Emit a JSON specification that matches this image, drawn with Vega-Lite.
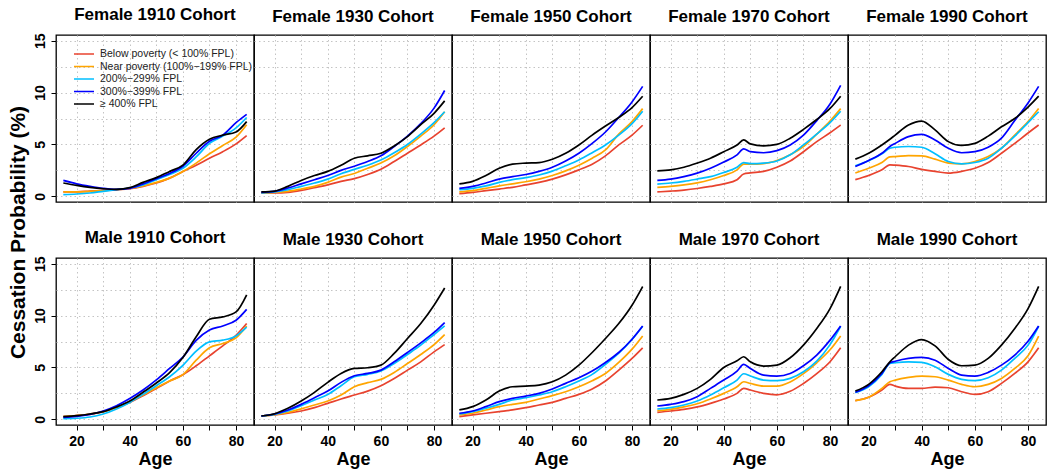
{
"$schema":"https://vega.github.io/schema/vega-lite/v6.json",
"padding":{"left":6,"top":5,"right":5,"bottom":5},
"bounds":"flush",
"columns":5,
"spacing":{"row":56,"column":0},
"resolve":{"scale":{"color":"independent"},"legend":{"color":"independent"}},
"config":{
 "font":"Liberation Sans",
 "view":{"stroke":"#000","strokeWidth":1.3},
 "title":{"fontSize":17,"fontWeight":"bold","color":"#000","offset":9,"baseline":"alphabetic","anchor":"middle","frame":"group","font":"Liberation Sans"},
 "axis":{"gridColor":"#c4c4c4","gridDash":[1.5,3],"gridWidth":1,"domain":false,"labelFont":"Liberation Sans","labelFontSize":14,"labelFontWeight":"bold","labelColor":"#000","tickColor":"#000","tickSize":5,"tickWidth":1,"titleFont":"Liberation Sans","titleFontWeight":"bold","titleColor":"#000","labelOverlap":false,"labelFlush":false}
},
"datasets":{
"F1910":[
{"income":"below","age":15,"prob":0.42},{"income":"below","age":20,"prob":0.42},{"income":"below","age":25,"prob":0.5},{"income":"below","age":30,"prob":0.57},{"income":"below","age":35,"prob":0.64},{"income":"below","age":40,"prob":0.73},{"income":"below","age":45,"prob":0.96},{"income":"below","age":50,"prob":1.28},{"income":"below","age":55,"prob":1.75},{"income":"below","age":60,"prob":2.4},{"income":"below","age":65,"prob":3.0},{"income":"below","age":70,"prob":3.67},{"income":"below","age":75,"prob":4.3},{"income":"below","age":80,"prob":5.05},{"income":"below","age":84,"prob":5.85},
{"income":"near","age":15,"prob":0.42},{"income":"near","age":20,"prob":0.42},{"income":"near","age":25,"prob":0.48},{"income":"near","age":30,"prob":0.55},{"income":"near","age":35,"prob":0.64},{"income":"near","age":40,"prob":0.75},{"income":"near","age":45,"prob":1.0},{"income":"near","age":50,"prob":1.34},{"income":"near","age":55,"prob":1.75},{"income":"near","age":60,"prob":2.4},{"income":"near","age":65,"prob":3.2},{"income":"near","age":70,"prob":4.1},{"income":"near","age":75,"prob":4.9},{"income":"near","age":80,"prob":5.7},{"income":"near","age":84,"prob":6.9},
{"income":"p200","age":15,"prob":0.16},{"income":"p200","age":20,"prob":0.22},{"income":"p200","age":25,"prob":0.32},{"income":"p200","age":30,"prob":0.48},{"income":"p200","age":35,"prob":0.64},{"income":"p200","age":40,"prob":0.8},{"income":"p200","age":45,"prob":1.1},{"income":"p200","age":50,"prob":1.6},{"income":"p200","age":55,"prob":2.1},{"income":"p200","age":60,"prob":2.7},{"income":"p200","age":65,"prob":3.8},{"income":"p200","age":70,"prob":5.1},{"income":"p200","age":75,"prob":5.8},{"income":"p200","age":80,"prob":6.6},{"income":"p200","age":84,"prob":7.6},
{"income":"p300","age":15,"prob":1.53},{"income":"p300","age":20,"prob":1.2},{"income":"p300","age":25,"prob":0.96},{"income":"p300","age":30,"prob":0.77},{"income":"p300","age":35,"prob":0.67},{"income":"p300","age":40,"prob":0.77},{"income":"p300","age":45,"prob":1.2},{"income":"p300","age":50,"prob":1.7},{"income":"p300","age":55,"prob":2.2},{"income":"p300","age":60,"prob":2.9},{"income":"p300","age":65,"prob":4.15},{"income":"p300","age":70,"prob":5.3},{"income":"p300","age":75,"prob":5.9},{"income":"p300","age":80,"prob":7.1},{"income":"p300","age":84,"prob":7.9},
{"income":"p400","age":15,"prob":1.28},{"income":"p400","age":20,"prob":1.05},{"income":"p400","age":25,"prob":0.86},{"income":"p400","age":30,"prob":0.73},{"income":"p400","age":35,"prob":0.67},{"income":"p400","age":40,"prob":0.83},{"income":"p400","age":45,"prob":1.34},{"income":"p400","age":50,"prob":1.8},{"income":"p400","age":55,"prob":2.4},{"income":"p400","age":60,"prob":3.0},{"income":"p400","age":65,"prob":4.5},{"income":"p400","age":70,"prob":5.5},{"income":"p400","age":75,"prob":5.9},{"income":"p400","age":80,"prob":6.2},{"income":"p400","age":84,"prob":7.2}
],
"F1930":[
{"income":"below","age":15,"prob":0.32},{"income":"below","age":20,"prob":0.32},{"income":"below","age":25,"prob":0.38},{"income":"below","age":30,"prob":0.57},{"income":"below","age":35,"prob":0.83},{"income":"below","age":40,"prob":1.1},{"income":"below","age":45,"prob":1.44},{"income":"below","age":50,"prob":1.7},{"income":"below","age":55,"prob":2.1},{"income":"below","age":60,"prob":2.6},{"income":"below","age":65,"prob":3.35},{"income":"below","age":70,"prob":4.15},{"income":"below","age":75,"prob":4.95},{"income":"below","age":80,"prob":5.8},{"income":"below","age":84,"prob":6.6},
{"income":"near","age":15,"prob":0.32},{"income":"near","age":20,"prob":0.38},{"income":"near","age":25,"prob":0.48},{"income":"near","age":30,"prob":0.7},{"income":"near","age":35,"prob":0.96},{"income":"near","age":40,"prob":1.34},{"income":"near","age":45,"prob":1.85},{"income":"near","age":50,"prob":2.2},{"income":"near","age":55,"prob":2.7},{"income":"near","age":60,"prob":3.2},{"income":"near","age":65,"prob":3.9},{"income":"near","age":70,"prob":4.8},{"income":"near","age":75,"prob":5.8},{"income":"near","age":80,"prob":6.9},{"income":"near","age":84,"prob":8.15},
{"income":"p200","age":15,"prob":0.32},{"income":"p200","age":20,"prob":0.42},{"income":"p200","age":25,"prob":0.64},{"income":"p200","age":30,"prob":0.96},{"income":"p200","age":35,"prob":1.28},{"income":"p200","age":40,"prob":1.66},{"income":"p200","age":45,"prob":2.17},{"income":"p200","age":50,"prob":2.6},{"income":"p200","age":55,"prob":3.0},{"income":"p200","age":60,"prob":3.5},{"income":"p200","age":65,"prob":4.2},{"income":"p200","age":70,"prob":5.0},{"income":"p200","age":75,"prob":6.0},{"income":"p200","age":80,"prob":7.1},{"income":"p200","age":84,"prob":8.15},
{"income":"p300","age":15,"prob":0.38},{"income":"p300","age":20,"prob":0.48},{"income":"p300","age":25,"prob":0.8},{"income":"p300","age":30,"prob":1.2},{"income":"p300","age":35,"prob":1.6},{"income":"p300","age":40,"prob":2.0},{"income":"p300","age":45,"prob":2.5},{"income":"p300","age":50,"prob":2.9},{"income":"p300","age":55,"prob":3.35},{"income":"p300","age":60,"prob":3.9},{"income":"p300","age":65,"prob":4.8},{"income":"p300","age":70,"prob":5.8},{"income":"p300","age":75,"prob":7.0},{"income":"p300","age":80,"prob":8.5},{"income":"p300","age":84,"prob":10.2},
{"income":"p400","age":15,"prob":0.42},{"income":"p400","age":20,"prob":0.5},{"income":"p400","age":25,"prob":0.96},{"income":"p400","age":30,"prob":1.53},{"income":"p400","age":35,"prob":2.0},{"income":"p400","age":40,"prob":2.4},{"income":"p400","age":45,"prob":3.0},{"income":"p400","age":50,"prob":3.67},{"income":"p400","age":55,"prob":3.9},{"income":"p400","age":60,"prob":4.15},{"income":"p400","age":65,"prob":4.85},{"income":"p400","age":70,"prob":5.75},{"income":"p400","age":75,"prob":6.9},{"income":"p400","age":80,"prob":8.0},{"income":"p400","age":84,"prob":9.2}
],
"F1950":[
{"income":"below","age":15,"prob":0.26},{"income":"below","age":20,"prob":0.38},{"income":"below","age":25,"prob":0.54},{"income":"below","age":30,"prob":0.7},{"income":"below","age":35,"prob":0.86},{"income":"below","age":40,"prob":1.1},{"income":"below","age":45,"prob":1.34},{"income":"below","age":50,"prob":1.66},{"income":"below","age":55,"prob":2.07},{"income":"below","age":60,"prob":2.55},{"income":"below","age":65,"prob":3.1},{"income":"below","age":70,"prob":3.9},{"income":"below","age":75,"prob":4.95},{"income":"below","age":80,"prob":5.9},{"income":"below","age":84,"prob":6.85},
{"income":"near","age":15,"prob":0.42},{"income":"near","age":20,"prob":0.54},{"income":"near","age":25,"prob":0.77},{"income":"near","age":30,"prob":1.0},{"income":"near","age":35,"prob":1.2},{"income":"near","age":40,"prob":1.4},{"income":"near","age":45,"prob":1.66},{"income":"near","age":50,"prob":2.0},{"income":"near","age":55,"prob":2.45},{"income":"near","age":60,"prob":3.0},{"income":"near","age":65,"prob":3.67},{"income":"near","age":70,"prob":4.47},{"income":"near","age":75,"prob":6.0},{"income":"near","age":80,"prob":7.2},{"income":"near","age":84,"prob":8.45},
{"income":"p200","age":15,"prob":0.64},{"income":"p200","age":20,"prob":0.77},{"income":"p200","age":25,"prob":1.0},{"income":"p200","age":30,"prob":1.34},{"income":"p200","age":35,"prob":1.6},{"income":"p200","age":40,"prob":1.8},{"income":"p200","age":45,"prob":2.05},{"income":"p200","age":50,"prob":2.43},{"income":"p200","age":55,"prob":2.94},{"income":"p200","age":60,"prob":3.5},{"income":"p200","age":65,"prob":4.2},{"income":"p200","age":70,"prob":4.95},{"income":"p200","age":75,"prob":5.9},{"income":"p200","age":80,"prob":7.0},{"income":"p200","age":84,"prob":8.2},
{"income":"p300","age":15,"prob":0.77},{"income":"p300","age":20,"prob":0.96},{"income":"p300","age":25,"prob":1.28},{"income":"p300","age":30,"prob":1.66},{"income":"p300","age":35,"prob":1.9},{"income":"p300","age":40,"prob":2.1},{"income":"p300","age":45,"prob":2.4},{"income":"p300","age":50,"prob":2.8},{"income":"p300","age":55,"prob":3.4},{"income":"p300","age":60,"prob":4.15},{"income":"p300","age":65,"prob":5.1},{"income":"p300","age":70,"prob":6.2},{"income":"p300","age":75,"prob":7.6},{"income":"p300","age":80,"prob":9.1},{"income":"p300","age":84,"prob":10.6},
{"income":"p400","age":15,"prob":1.2},{"income":"p400","age":20,"prob":1.44},{"income":"p400","age":25,"prob":2.0},{"income":"p400","age":30,"prob":2.7},{"income":"p400","age":35,"prob":3.1},{"income":"p400","age":40,"prob":3.2},{"income":"p400","age":45,"prob":3.25},{"income":"p400","age":50,"prob":3.57},{"income":"p400","age":55,"prob":4.15},{"income":"p400","age":60,"prob":4.95},{"income":"p400","age":65,"prob":5.9},{"income":"p400","age":70,"prob":6.77},{"income":"p400","age":75,"prob":7.6},{"income":"p400","age":80,"prob":8.55},{"income":"p400","age":84,"prob":9.64}
],
"F1970":[
{"income":"below","age":15,"prob":0.42},{"income":"below","age":20,"prob":0.5},{"income":"below","age":25,"prob":0.6},{"income":"below","age":30,"prob":0.75},{"income":"below","age":35,"prob":0.95},{"income":"below","age":40,"prob":1.2},{"income":"below","age":45,"prob":1.6},{"income":"below","age":47.5,"prob":2.15},{"income":"below","age":50,"prob":2.25},{"income":"below","age":55,"prob":2.4},{"income":"below","age":60,"prob":2.8},{"income":"below","age":65,"prob":3.4},{"income":"below","age":70,"prob":4.3},{"income":"below","age":75,"prob":5.27},{"income":"below","age":80,"prob":6.13},{"income":"below","age":84,"prob":6.87},
{"income":"near","age":15,"prob":0.86},{"income":"near","age":20,"prob":0.96},{"income":"near","age":25,"prob":1.1},{"income":"near","age":30,"prob":1.3},{"income":"near","age":35,"prob":1.6},{"income":"near","age":40,"prob":2.0},{"income":"near","age":45,"prob":2.55},{"income":"near","age":47.5,"prob":3.1},{"income":"near","age":50,"prob":3.1},{"income":"near","age":55,"prob":3.15},{"income":"near","age":60,"prob":3.45},{"income":"near","age":65,"prob":4.0},{"income":"near","age":70,"prob":4.8},{"income":"near","age":75,"prob":6.0},{"income":"near","age":80,"prob":7.25},{"income":"near","age":84,"prob":8.45},
{"income":"p200","age":15,"prob":1.18},{"income":"p200","age":20,"prob":1.28},{"income":"p200","age":25,"prob":1.44},{"income":"p200","age":30,"prob":1.66},{"income":"p200","age":35,"prob":1.9},{"income":"p200","age":40,"prob":2.3},{"income":"p200","age":45,"prob":2.8},{"income":"p200","age":47.5,"prob":3.25},{"income":"p200","age":50,"prob":3.15},{"income":"p200","age":55,"prob":3.2},{"income":"p200","age":60,"prob":3.4},{"income":"p200","age":65,"prob":4.0},{"income":"p200","age":70,"prob":4.95},{"income":"p200","age":75,"prob":6.0},{"income":"p200","age":80,"prob":7.1},{"income":"p200","age":84,"prob":8.2},
{"income":"p300","age":15,"prob":1.53},{"income":"p300","age":20,"prob":1.66},{"income":"p300","age":25,"prob":1.9},{"income":"p300","age":30,"prob":2.23},{"income":"p300","age":35,"prob":2.7},{"income":"p300","age":40,"prob":3.3},{"income":"p300","age":45,"prob":4.0},{"income":"p300","age":47.5,"prob":4.57},{"income":"p300","age":50,"prob":4.3},{"income":"p300","age":55,"prob":4.2},{"income":"p300","age":60,"prob":4.4},{"income":"p300","age":65,"prob":4.95},{"income":"p300","age":70,"prob":5.9},{"income":"p300","age":75,"prob":7.3},{"income":"p300","age":80,"prob":8.9},{"income":"p300","age":84,"prob":10.7},
{"income":"p400","age":15,"prob":2.46},{"income":"p400","age":20,"prob":2.55},{"income":"p400","age":25,"prob":2.8},{"income":"p400","age":30,"prob":3.2},{"income":"p400","age":35,"prob":3.67},{"income":"p400","age":40,"prob":4.3},{"income":"p400","age":45,"prob":4.95},{"income":"p400","age":47.5,"prob":5.43},{"income":"p400","age":50,"prob":5.05},{"income":"p400","age":55,"prob":4.86},{"income":"p400","age":60,"prob":5.0},{"income":"p400","age":65,"prob":5.6},{"income":"p400","age":70,"prob":6.45},{"income":"p400","age":75,"prob":7.4},{"income":"p400","age":80,"prob":8.47},{"income":"p400","age":84,"prob":9.65}
],
"F1990":[
{"income":"below","age":15,"prob":1.6},{"income":"below","age":20,"prob":2.0},{"income":"below","age":25,"prob":2.55},{"income":"below","age":28,"prob":3.03},{"income":"below","age":30,"prob":3.0},{"income":"below","age":35,"prob":2.87},{"income":"below","age":40,"prob":2.6},{"income":"below","age":45,"prob":2.4},{"income":"below","age":50,"prob":2.24},{"income":"below","age":55,"prob":2.4},{"income":"below","age":60,"prob":2.7},{"income":"below","age":65,"prob":3.25},{"income":"below","age":70,"prob":4.15},{"income":"below","age":75,"prob":5.1},{"income":"below","age":80,"prob":6.1},{"income":"below","age":84,"prob":6.87},
{"income":"near","age":15,"prob":2.24},{"income":"near","age":20,"prob":2.7},{"income":"near","age":25,"prob":3.25},{"income":"near","age":28,"prob":3.8},{"income":"near","age":30,"prob":3.83},{"income":"near","age":35,"prob":3.93},{"income":"near","age":40,"prob":3.9},{"income":"near","age":45,"prob":3.58},{"income":"near","age":50,"prob":3.2},{"income":"near","age":55,"prob":3.13},{"income":"near","age":60,"prob":3.35},{"income":"near","age":65,"prob":3.83},{"income":"near","age":70,"prob":4.63},{"income":"near","age":75,"prob":5.9},{"income":"near","age":80,"prob":7.2},{"income":"near","age":84,"prob":8.47},
{"income":"p200","age":15,"prob":2.94},{"income":"p200","age":20,"prob":3.42},{"income":"p200","age":25,"prob":4.1},{"income":"p200","age":28,"prob":4.63},{"income":"p200","age":30,"prob":4.73},{"income":"p200","age":35,"prob":4.8},{"income":"p200","age":40,"prob":4.73},{"income":"p200","age":45,"prob":4.1},{"income":"p200","age":50,"prob":3.35},{"income":"p200","age":55,"prob":3.13},{"income":"p200","age":60,"prob":3.26},{"income":"p200","age":65,"prob":3.67},{"income":"p200","age":70,"prob":4.63},{"income":"p200","age":75,"prob":5.8},{"income":"p200","age":80,"prob":7.1},{"income":"p200","age":84,"prob":8.15},
{"income":"p300","age":15,"prob":2.87},{"income":"p300","age":20,"prob":3.45},{"income":"p300","age":25,"prob":4.15},{"income":"p300","age":28,"prob":4.8},{"income":"p300","age":30,"prob":5.1},{"income":"p300","age":35,"prob":5.75},{"income":"p300","age":40,"prob":5.97},{"income":"p300","age":45,"prob":5.43},{"income":"p300","age":50,"prob":4.63},{"income":"p300","age":55,"prob":4.2},{"income":"p300","age":60,"prob":4.3},{"income":"p300","age":65,"prob":4.73},{"income":"p300","age":70,"prob":5.6},{"income":"p300","age":75,"prob":7.3},{"income":"p300","age":80,"prob":9.0},{"income":"p300","age":84,"prob":10.6},
{"income":"p400","age":15,"prob":3.58},{"income":"p400","age":20,"prob":4.15},{"income":"p400","age":25,"prob":4.95},{"income":"p400","age":28,"prob":5.5},{"income":"p400","age":30,"prob":5.9},{"income":"p400","age":35,"prob":6.87},{"income":"p400","age":40,"prob":7.25},{"income":"p400","age":45,"prob":6.4},{"income":"p400","age":50,"prob":5.27},{"income":"p400","age":55,"prob":4.9},{"income":"p400","age":60,"prob":5.1},{"income":"p400","age":65,"prob":5.8},{"income":"p400","age":70,"prob":6.7},{"income":"p400","age":75,"prob":7.5},{"income":"p400","age":80,"prob":8.6},{"income":"p400","age":84,"prob":9.65}
],
"M1910":[
{"income":"below","age":15,"prob":0.26},{"income":"below","age":20,"prob":0.35},{"income":"below","age":25,"prob":0.48},{"income":"below","age":30,"prob":0.74},{"income":"below","age":35,"prob":1.15},{"income":"below","age":40,"prob":1.63},{"income":"below","age":45,"prob":2.28},{"income":"below","age":50,"prob":2.98},{"income":"below","age":55,"prob":3.69},{"income":"below","age":60,"prob":4.3},{"income":"below","age":65,"prob":5.16},{"income":"below","age":70,"prob":6.12},{"income":"below","age":75,"prob":7.08},{"income":"below","age":80,"prob":8.1},{"income":"below","age":84,"prob":9.23},
{"income":"near","age":15,"prob":0.26},{"income":"near","age":20,"prob":0.35},{"income":"near","age":25,"prob":0.51},{"income":"near","age":30,"prob":0.74},{"income":"near","age":35,"prob":1.12},{"income":"near","age":40,"prob":1.7},{"income":"near","age":45,"prob":2.34},{"income":"near","age":50,"prob":3.04},{"income":"near","age":55,"prob":3.69},{"income":"near","age":60,"prob":4.3},{"income":"near","age":65,"prob":5.7},{"income":"near","age":70,"prob":6.89},{"income":"near","age":75,"prob":7.3},{"income":"near","age":80,"prob":7.85},{"income":"near","age":84,"prob":9.0},
{"income":"p200","age":15,"prob":0.06},{"income":"p200","age":20,"prob":0.1},{"income":"p200","age":25,"prob":0.22},{"income":"p200","age":30,"prob":0.51},{"income":"p200","age":35,"prob":1.0},{"income":"p200","age":40,"prob":1.63},{"income":"p200","age":45,"prob":2.4},{"income":"p200","age":50,"prob":3.24},{"income":"p200","age":55,"prob":4.1},{"income":"p200","age":60,"prob":5.2},{"income":"p200","age":65,"prob":6.57},{"income":"p200","age":70,"prob":7.47},{"income":"p200","age":75,"prob":7.63},{"income":"p200","age":80,"prob":8.04},{"income":"p200","age":84,"prob":8.88},
{"income":"p300","age":15,"prob":0.19},{"income":"p300","age":20,"prob":0.29},{"income":"p300","age":25,"prob":0.48},{"income":"p300","age":30,"prob":0.8},{"income":"p300","age":35,"prob":1.31},{"income":"p300","age":40,"prob":2.0},{"income":"p300","age":45,"prob":2.82},{"income":"p300","age":50,"prob":3.8},{"income":"p300","age":55,"prob":4.9},{"income":"p300","age":60,"prob":6.0},{"income":"p300","age":65,"prob":7.6},{"income":"p300","age":70,"prob":8.6},{"income":"p300","age":75,"prob":9.0},{"income":"p300","age":80,"prob":9.55},{"income":"p300","age":84,"prob":10.6},
{"income":"p400","age":15,"prob":0.26},{"income":"p400","age":20,"prob":0.35},{"income":"p400","age":25,"prob":0.51},{"income":"p400","age":30,"prob":0.74},{"income":"p400","age":35,"prob":1.19},{"income":"p400","age":40,"prob":1.76},{"income":"p400","age":45,"prob":2.6},{"income":"p400","age":50,"prob":3.5},{"income":"p400","age":55,"prob":4.5},{"income":"p400","age":60,"prob":5.95},{"income":"p400","age":65,"prob":7.95},{"income":"p400","age":70,"prob":9.65},{"income":"p400","age":75,"prob":9.87},{"income":"p400","age":80,"prob":10.35},{"income":"p400","age":84,"prob":12.0}
],
"M1930":[
{"income":"below","age":15,"prob":0.32},{"income":"below","age":20,"prob":0.42},{"income":"below","age":25,"prob":0.58},{"income":"below","age":30,"prob":0.8},{"income":"below","age":35,"prob":1.12},{"income":"below","age":40,"prob":1.54},{"income":"below","age":45,"prob":1.96},{"income":"below","age":50,"prob":2.34},{"income":"below","age":55,"prob":2.72},{"income":"below","age":60,"prob":3.24},{"income":"below","age":65,"prob":3.94},{"income":"below","age":70,"prob":4.74},{"income":"below","age":75,"prob":5.54},{"income":"below","age":80,"prob":6.5},{"income":"below","age":84,"prob":7.2},
{"income":"near","age":15,"prob":0.32},{"income":"near","age":20,"prob":0.45},{"income":"near","age":25,"prob":0.67},{"income":"near","age":30,"prob":1.0},{"income":"near","age":35,"prob":1.38},{"income":"near","age":40,"prob":1.76},{"income":"near","age":45,"prob":2.34},{"income":"near","age":50,"prob":3.14},{"income":"near","age":55,"prob":3.53},{"income":"near","age":60,"prob":3.85},{"income":"near","age":65,"prob":4.52},{"income":"near","age":70,"prob":5.38},{"income":"near","age":75,"prob":6.25},{"income":"near","age":80,"prob":7.2},{"income":"near","age":84,"prob":8.17},
{"income":"p200","age":15,"prob":0.32},{"income":"p200","age":20,"prob":0.48},{"income":"p200","age":25,"prob":0.8},{"income":"p200","age":30,"prob":1.31},{"income":"p200","age":35,"prob":1.86},{"income":"p200","age":40,"prob":2.4},{"income":"p200","age":45,"prob":3.24},{"income":"p200","age":50,"prob":4.1},{"income":"p200","age":55,"prob":4.33},{"income":"p200","age":60,"prob":4.65},{"income":"p200","age":65,"prob":5.38},{"income":"p200","age":70,"prob":6.25},{"income":"p200","age":75,"prob":7.15},{"income":"p200","age":80,"prob":8.17},{"income":"p200","age":84,"prob":9.0},
{"income":"p300","age":15,"prob":0.32},{"income":"p300","age":20,"prob":0.51},{"income":"p300","age":25,"prob":0.9},{"income":"p300","age":30,"prob":1.44},{"income":"p300","age":35,"prob":2.08},{"income":"p300","age":40,"prob":2.72},{"income":"p300","age":45,"prob":3.56},{"income":"p300","age":50,"prob":4.2},{"income":"p300","age":55,"prob":4.42},{"income":"p300","age":60,"prob":4.74},{"income":"p300","age":65,"prob":5.54},{"income":"p300","age":70,"prob":6.44},{"income":"p300","age":75,"prob":7.37},{"income":"p300","age":80,"prob":8.37},{"income":"p300","age":84,"prob":9.33},
{"income":"p400","age":15,"prob":0.32},{"income":"p400","age":20,"prob":0.54},{"income":"p400","age":25,"prob":1.06},{"income":"p400","age":30,"prob":1.76},{"income":"p400","age":35,"prob":2.6},{"income":"p400","age":40,"prob":3.56},{"income":"p400","age":45,"prob":4.42},{"income":"p400","age":50,"prob":4.9},{"income":"p400","age":55,"prob":4.97},{"income":"p400","age":60,"prob":5.22},{"income":"p400","age":65,"prob":6.35},{"income":"p400","age":70,"prob":7.79},{"income":"p400","age":75,"prob":9.23},{"income":"p400","age":80,"prob":11.0},{"income":"p400","age":84,"prob":12.66}
],
"M1950":[
{"income":"below","age":15,"prob":0.26},{"income":"below","age":20,"prob":0.42},{"income":"below","age":25,"prob":0.58},{"income":"below","age":30,"prob":0.74},{"income":"below","age":35,"prob":0.9},{"income":"below","age":40,"prob":1.12},{"income":"below","age":45,"prob":1.38},{"income":"below","age":50,"prob":1.63},{"income":"below","age":55,"prob":2.02},{"income":"below","age":60,"prob":2.4},{"income":"below","age":65,"prob":2.92},{"income":"below","age":70,"prob":3.69},{"income":"below","age":75,"prob":4.74},{"income":"below","age":80,"prob":5.87},{"income":"below","age":84,"prob":6.89},
{"income":"near","age":15,"prob":0.42},{"income":"near","age":20,"prob":0.58},{"income":"near","age":25,"prob":0.9},{"income":"near","age":30,"prob":1.22},{"income":"near","age":35,"prob":1.44},{"income":"near","age":40,"prob":1.63},{"income":"near","age":45,"prob":1.96},{"income":"near","age":50,"prob":2.28},{"income":"near","age":55,"prob":2.66},{"income":"near","age":60,"prob":3.14},{"income":"near","age":65,"prob":3.72},{"income":"near","age":70,"prob":4.42},{"income":"near","age":75,"prob":5.48},{"income":"near","age":80,"prob":6.76},{"income":"near","age":84,"prob":8.04},
{"income":"p200","age":15,"prob":0.51},{"income":"p200","age":20,"prob":0.74},{"income":"p200","age":25,"prob":1.06},{"income":"p200","age":30,"prob":1.44},{"income":"p200","age":35,"prob":1.86},{"income":"p200","age":40,"prob":2.08},{"income":"p200","age":45,"prob":2.34},{"income":"p200","age":50,"prob":2.66},{"income":"p200","age":55,"prob":3.14},{"income":"p200","age":60,"prob":3.69},{"income":"p200","age":65,"prob":4.33},{"income":"p200","age":70,"prob":5.3},{"income":"p200","age":75,"prob":6.38},{"income":"p200","age":80,"prob":7.7},{"income":"p200","age":84,"prob":8.97},
{"income":"p300","age":15,"prob":0.58},{"income":"p300","age":20,"prob":0.8},{"income":"p300","age":25,"prob":1.22},{"income":"p300","age":30,"prob":1.7},{"income":"p300","age":35,"prob":2.02},{"income":"p300","age":40,"prob":2.24},{"income":"p300","age":45,"prob":2.5},{"income":"p300","age":50,"prob":2.92},{"income":"p300","age":55,"prob":3.46},{"income":"p300","age":60,"prob":4.0},{"income":"p300","age":65,"prob":4.65},{"income":"p300","age":70,"prob":5.48},{"income":"p300","age":75,"prob":6.44},{"income":"p300","age":80,"prob":7.72},{"income":"p300","age":84,"prob":9.0},
{"income":"p400","age":15,"prob":0.9},{"income":"p400","age":20,"prob":1.22},{"income":"p400","age":25,"prob":1.86},{"income":"p400","age":30,"prob":2.72},{"income":"p400","age":35,"prob":3.14},{"income":"p400","age":40,"prob":3.2},{"income":"p400","age":45,"prob":3.3},{"income":"p400","age":50,"prob":3.62},{"income":"p400","age":55,"prob":4.26},{"income":"p400","age":60,"prob":5.22},{"income":"p400","age":65,"prob":6.44},{"income":"p400","age":70,"prob":7.79},{"income":"p400","age":75,"prob":9.23},{"income":"p400","age":80,"prob":11.0},{"income":"p400","age":84,"prob":12.8}
],
"M1970":[
{"income":"below","age":15,"prob":0.67},{"income":"below","age":20,"prob":0.8},{"income":"below","age":25,"prob":0.96},{"income":"below","age":30,"prob":1.19},{"income":"below","age":35,"prob":1.54},{"income":"below","age":40,"prob":1.96},{"income":"below","age":45,"prob":2.5},{"income":"below","age":47.5,"prob":2.98},{"income":"below","age":50,"prob":2.82},{"income":"below","age":55,"prob":2.5},{"income":"below","age":60,"prob":2.36},{"income":"below","age":65,"prob":2.7},{"income":"below","age":70,"prob":3.45},{"income":"below","age":75,"prob":4.4},{"income":"below","age":80,"prob":5.55},{"income":"below","age":84,"prob":6.89},
{"income":"near","age":15,"prob":0.83},{"income":"near","age":20,"prob":0.96},{"income":"near","age":25,"prob":1.19},{"income":"near","age":30,"prob":1.5},{"income":"near","age":35,"prob":1.96},{"income":"near","age":40,"prob":2.5},{"income":"near","age":45,"prob":3.14},{"income":"near","age":47.5,"prob":3.62},{"income":"near","age":50,"prob":3.46},{"income":"near","age":55,"prob":3.2},{"income":"near","age":60,"prob":3.2},{"income":"near","age":65,"prob":3.6},{"income":"near","age":70,"prob":4.4},{"income":"near","age":75,"prob":5.45},{"income":"near","age":80,"prob":6.7},{"income":"near","age":84,"prob":8.04},
{"income":"p200","age":15,"prob":0.99},{"income":"p200","age":20,"prob":1.12},{"income":"p200","age":25,"prob":1.38},{"income":"p200","age":30,"prob":1.76},{"income":"p200","age":35,"prob":2.34},{"income":"p200","age":40,"prob":3.04},{"income":"p200","age":45,"prob":3.78},{"income":"p200","age":47.5,"prob":4.39},{"income":"p200","age":50,"prob":4.17},{"income":"p200","age":55,"prob":3.78},{"income":"p200","age":60,"prob":3.72},{"income":"p200","age":65,"prob":3.94},{"income":"p200","age":70,"prob":4.58},{"income":"p200","age":75,"prob":5.6},{"income":"p200","age":80,"prob":7.2},{"income":"p200","age":84,"prob":8.97},
{"income":"p300","age":15,"prob":1.28},{"income":"p300","age":20,"prob":1.44},{"income":"p300","age":25,"prob":1.7},{"income":"p300","age":30,"prob":2.18},{"income":"p300","age":35,"prob":2.98},{"income":"p300","age":40,"prob":3.78},{"income":"p300","age":45,"prob":4.65},{"income":"p300","age":47.5,"prob":5.29},{"income":"p300","age":50,"prob":4.9},{"income":"p300","age":55,"prob":4.26},{"income":"p300","age":60,"prob":4.17},{"income":"p300","age":65,"prob":4.42},{"income":"p300","age":70,"prob":5.16},{"income":"p300","age":75,"prob":6.19},{"income":"p300","age":80,"prob":7.63},{"income":"p300","age":84,"prob":9.0},
{"income":"p400","age":15,"prob":1.86},{"income":"p400","age":20,"prob":2.02},{"income":"p400","age":25,"prob":2.4},{"income":"p400","age":30,"prob":2.98},{"income":"p400","age":35,"prob":3.85},{"income":"p400","age":40,"prob":5.0},{"income":"p400","age":45,"prob":5.64},{"income":"p400","age":47.5,"prob":6.03},{"income":"p400","age":50,"prob":5.54},{"income":"p400","age":55,"prob":5.13},{"income":"p400","age":60,"prob":5.22},{"income":"p400","age":65,"prob":5.93},{"income":"p400","age":70,"prob":7.15},{"income":"p400","age":75,"prob":8.75},{"income":"p400","age":80,"prob":10.67},{"income":"p400","age":84,"prob":12.82}
],
"M1990":[
{"income":"below","age":15,"prob":1.8},{"income":"below","age":20,"prob":2.12},{"income":"below","age":25,"prob":2.82},{"income":"below","age":28,"prob":3.37},{"income":"below","age":30,"prob":3.2},{"income":"below","age":35,"prob":2.98},{"income":"below","age":40,"prob":2.98},{"income":"below","age":45,"prob":3.1},{"income":"below","age":50,"prob":3.04},{"income":"below","age":55,"prob":2.66},{"income":"below","age":60,"prob":2.4},{"income":"below","age":65,"prob":2.66},{"income":"below","age":70,"prob":3.46},{"income":"below","age":75,"prob":4.42},{"income":"below","age":80,"prob":5.54},{"income":"below","age":84,"prob":6.89},
{"income":"near","age":15,"prob":1.8},{"income":"near","age":20,"prob":2.12},{"income":"near","age":25,"prob":2.98},{"income":"near","age":28,"prob":3.62},{"income":"near","age":30,"prob":3.78},{"income":"near","age":35,"prob":4.04},{"income":"near","age":40,"prob":4.17},{"income":"near","age":45,"prob":4.1},{"income":"near","age":50,"prob":3.78},{"income":"near","age":55,"prob":3.37},{"income":"near","age":60,"prob":3.14},{"income":"near","age":65,"prob":3.37},{"income":"near","age":70,"prob":3.94},{"income":"near","age":75,"prob":4.9},{"income":"near","age":80,"prob":6.12},{"income":"near","age":84,"prob":8.01},
{"income":"p200","age":15,"prob":2.56},{"income":"p200","age":20,"prob":3.14},{"income":"p200","age":25,"prob":4.33},{"income":"p200","age":28,"prob":5.38},{"income":"p200","age":30,"prob":5.45},{"income":"p200","age":35,"prob":5.54},{"income":"p200","age":40,"prob":5.48},{"income":"p200","age":45,"prob":5.06},{"income":"p200","age":50,"prob":4.33},{"income":"p200","age":55,"prob":3.85},{"income":"p200","age":60,"prob":3.72},{"income":"p200","age":65,"prob":4.0},{"income":"p200","age":70,"prob":4.74},{"income":"p200","age":75,"prob":5.87},{"income":"p200","age":80,"prob":7.15},{"income":"p200","age":84,"prob":8.97},
{"income":"p300","age":15,"prob":2.6},{"income":"p300","age":20,"prob":3.24},{"income":"p300","age":25,"prob":4.42},{"income":"p300","age":28,"prob":5.45},{"income":"p300","age":30,"prob":5.6},{"income":"p300","age":35,"prob":5.87},{"income":"p300","age":40,"prob":5.96},{"income":"p300","age":45,"prob":5.7},{"income":"p300","age":50,"prob":4.9},{"income":"p300","age":55,"prob":4.26},{"income":"p300","age":60,"prob":4.17},{"income":"p300","age":65,"prob":4.52},{"income":"p300","age":70,"prob":5.22},{"income":"p300","age":75,"prob":6.19},{"income":"p300","age":80,"prob":7.53},{"income":"p300","age":84,"prob":9.0},
{"income":"p400","age":15,"prob":2.72},{"income":"p400","age":20,"prob":3.37},{"income":"p400","age":25,"prob":4.58},{"income":"p400","age":28,"prob":5.54},{"income":"p400","age":30,"prob":6.03},{"income":"p400","age":35,"prob":7.15},{"income":"p400","age":40,"prob":7.69},{"income":"p400","age":45,"prob":7.08},{"income":"p400","age":50,"prob":5.77},{"income":"p400","age":55,"prob":5.16},{"income":"p400","age":60,"prob":5.22},{"income":"p400","age":65,"prob":5.87},{"income":"p400","age":70,"prob":7.15},{"income":"p400","age":75,"prob":8.75},{"income":"p400","age":80,"prob":10.67},{"income":"p400","age":84,"prob":12.82}
]
},
"concat":[
{"width":198,"height":167,"title":"Female 1910 Cohort","data":{"name":"F1910"},
 "mark":{"type":"line","interpolate":"monotone","strokeWidth":1.7},
 "encoding":{
  "x":{"field":"age","type":"quantitative","scale":{"domain":[12.24,86.76],"nice":false,"zero":false},"axis":{"values":[20,30,40,50,60,70,80],"labels":false,"ticks":false,"title":null}},
  "y":{"field":"prob","type":"quantitative","scale":{"domain":[-0.55,15.55],"nice":false,"zero":false},"axis":{"values":[0,2.5,5,7.5,10,12.5,15],"labelExpr":"datum.value % 5 === 0 ? datum.label : ''","tickOpacity":{"condition":{"test":"datum.value % 5 === 0","value":1},"value":0},"labelAngle":270,"labelAlign":"center","labelBaseline":"bottom","labelPadding":4,"title":"Cessation Probability (%)","titleFontSize":21,"titleX":-32,"titleY":197,"titleAngle":270,"titleAlign":"center","titleBaseline":"alphabetic"}},
  "color":{"field":"income","type":"nominal","scale":{"domain":["below","near","p200","p300","p400"],"range":["#E8432F","#FFA500","#00BFFF","#0000FF","#000000"]},
   "legend":{"orient":"none","legendX":17,"legendY":13,"title":null,"symbolType":"stroke","symbolSize":400,"symbolStrokeWidth":1.5,"clipHeight":12,"labelFontSize":10.5,"labelFontWeight":"normal","labelFont":"Liberation Sans","labelColor":"#222","labelOffset":5,"labelLimit":300,"rowPadding":0.5,"padding":0,
   "labelExpr":"datum.label === 'below' ? 'Below poverty (< 100% FPL)' : datum.label === 'near' ? 'Near poverty (100%\u2212199% FPL)' : datum.label === 'p200' ? '200%\u2212299% FPL' : datum.label === 'p300' ? '300%\u2212399% FPL' : '\u2265 400% FPL'"}}
 }},
{"width":198,"height":167,"title":"Female 1930 Cohort","data":{"name":"F1930"},
 "mark":{"type":"line","interpolate":"monotone","strokeWidth":1.7},
 "encoding":{
  "x":{"field":"age","type":"quantitative","scale":{"domain":[12.24,86.76],"nice":false,"zero":false},"axis":{"values":[20,30,40,50,60,70,80],"labels":false,"ticks":false,"title":null}},
  "y":{"field":"prob","type":"quantitative","scale":{"domain":[-0.55,15.55],"nice":false,"zero":false},"axis":{"values":[0,2.5,5,7.5,10,12.5,15],"labels":false,"ticks":false,"title":null}},
  "color":{"field":"income","type":"nominal","scale":{"domain":["below","near","p200","p300","p400"],"range":["#E8432F","#FFA500","#00BFFF","#0000FF","#000000"]},"legend":null}
 }},
{"width":198,"height":167,"title":"Female 1950 Cohort","data":{"name":"F1950"},
 "mark":{"type":"line","interpolate":"monotone","strokeWidth":1.7},
 "encoding":{
  "x":{"field":"age","type":"quantitative","scale":{"domain":[12.24,86.76],"nice":false,"zero":false},"axis":{"values":[20,30,40,50,60,70,80],"labels":false,"ticks":false,"title":null}},
  "y":{"field":"prob","type":"quantitative","scale":{"domain":[-0.55,15.55],"nice":false,"zero":false},"axis":{"values":[0,2.5,5,7.5,10,12.5,15],"labels":false,"ticks":false,"title":null}},
  "color":{"field":"income","type":"nominal","scale":{"domain":["below","near","p200","p300","p400"],"range":["#E8432F","#FFA500","#00BFFF","#0000FF","#000000"]},"legend":null}
 }},
{"width":198,"height":167,"title":"Female 1970 Cohort","data":{"name":"F1970"},
 "mark":{"type":"line","interpolate":"monotone","strokeWidth":1.7},
 "encoding":{
  "x":{"field":"age","type":"quantitative","scale":{"domain":[12.24,86.76],"nice":false,"zero":false},"axis":{"values":[20,30,40,50,60,70,80],"labels":false,"ticks":false,"title":null}},
  "y":{"field":"prob","type":"quantitative","scale":{"domain":[-0.55,15.55],"nice":false,"zero":false},"axis":{"values":[0,2.5,5,7.5,10,12.5,15],"labels":false,"ticks":false,"title":null}},
  "color":{"field":"income","type":"nominal","scale":{"domain":["below","near","p200","p300","p400"],"range":["#E8432F","#FFA500","#00BFFF","#0000FF","#000000"]},"legend":null}
 }},
{"width":198,"height":167,"title":"Female 1990 Cohort","data":{"name":"F1990"},
 "mark":{"type":"line","interpolate":"monotone","strokeWidth":1.7},
 "encoding":{
  "x":{"field":"age","type":"quantitative","scale":{"domain":[12.24,86.76],"nice":false,"zero":false},"axis":{"values":[20,30,40,50,60,70,80],"labels":false,"ticks":false,"title":null}},
  "y":{"field":"prob","type":"quantitative","scale":{"domain":[-0.55,15.55],"nice":false,"zero":false},"axis":{"values":[0,2.5,5,7.5,10,12.5,15],"labels":false,"ticks":false,"title":null}},
  "color":{"field":"income","type":"nominal","scale":{"domain":["below","near","p200","p300","p400"],"range":["#E8432F","#FFA500","#00BFFF","#0000FF","#000000"]},"legend":null}
 }},
{"width":198,"height":167,"title":"Male 1910 Cohort","data":{"name":"M1910"},
 "mark":{"type":"line","interpolate":"monotone","strokeWidth":1.7},
 "encoding":{
  "x":{"field":"age","type":"quantitative","scale":{"domain":[12.24,86.76],"nice":false,"zero":false},"axis":{"values":[20,30,40,50,60,70,80],"labelExpr":"datum.value % 20 === 0 ? datum.label : ''","labelPadding":4,"labelAngle":0,"title":"Age","titleFontSize":18,"titlePadding":2}},
  "y":{"field":"prob","type":"quantitative","scale":{"domain":[-0.55,15.55],"nice":false,"zero":false},"axis":{"values":[0,2.5,5,7.5,10,12.5,15],"labelExpr":"datum.value % 5 === 0 ? datum.label : ''","tickOpacity":{"condition":{"test":"datum.value % 5 === 0","value":1},"value":0},"labelAngle":270,"labelAlign":"center","labelBaseline":"bottom","labelPadding":4,"title":null}},
  "color":{"field":"income","type":"nominal","scale":{"domain":["below","near","p200","p300","p400"],"range":["#E8432F","#FFA500","#00BFFF","#0000FF","#000000"]},"legend":null}
 }},
{"width":198,"height":167,"title":"Male 1930 Cohort","data":{"name":"M1930"},
 "mark":{"type":"line","interpolate":"monotone","strokeWidth":1.7},
 "encoding":{
  "x":{"field":"age","type":"quantitative","scale":{"domain":[12.24,86.76],"nice":false,"zero":false},"axis":{"values":[20,30,40,50,60,70,80],"labelExpr":"datum.value % 20 === 0 ? datum.label : ''","labelPadding":4,"labelAngle":0,"title":"Age","titleFontSize":18,"titlePadding":2}},
  "y":{"field":"prob","type":"quantitative","scale":{"domain":[-0.55,15.55],"nice":false,"zero":false},"axis":{"values":[0,2.5,5,7.5,10,12.5,15],"labels":false,"ticks":false,"title":null}},
  "color":{"field":"income","type":"nominal","scale":{"domain":["below","near","p200","p300","p400"],"range":["#E8432F","#FFA500","#00BFFF","#0000FF","#000000"]},"legend":null}
 }},
{"width":198,"height":167,"title":"Male 1950 Cohort","data":{"name":"M1950"},
 "mark":{"type":"line","interpolate":"monotone","strokeWidth":1.7},
 "encoding":{
  "x":{"field":"age","type":"quantitative","scale":{"domain":[12.24,86.76],"nice":false,"zero":false},"axis":{"values":[20,30,40,50,60,70,80],"labelExpr":"datum.value % 20 === 0 ? datum.label : ''","labelPadding":4,"labelAngle":0,"title":"Age","titleFontSize":18,"titlePadding":2}},
  "y":{"field":"prob","type":"quantitative","scale":{"domain":[-0.55,15.55],"nice":false,"zero":false},"axis":{"values":[0,2.5,5,7.5,10,12.5,15],"labels":false,"ticks":false,"title":null}},
  "color":{"field":"income","type":"nominal","scale":{"domain":["below","near","p200","p300","p400"],"range":["#E8432F","#FFA500","#00BFFF","#0000FF","#000000"]},"legend":null}
 }},
{"width":198,"height":167,"title":"Male 1970 Cohort","data":{"name":"M1970"},
 "mark":{"type":"line","interpolate":"monotone","strokeWidth":1.7},
 "encoding":{
  "x":{"field":"age","type":"quantitative","scale":{"domain":[12.24,86.76],"nice":false,"zero":false},"axis":{"values":[20,30,40,50,60,70,80],"labelExpr":"datum.value % 20 === 0 ? datum.label : ''","labelPadding":4,"labelAngle":0,"title":"Age","titleFontSize":18,"titlePadding":2}},
  "y":{"field":"prob","type":"quantitative","scale":{"domain":[-0.55,15.55],"nice":false,"zero":false},"axis":{"values":[0,2.5,5,7.5,10,12.5,15],"labels":false,"ticks":false,"title":null}},
  "color":{"field":"income","type":"nominal","scale":{"domain":["below","near","p200","p300","p400"],"range":["#E8432F","#FFA500","#00BFFF","#0000FF","#000000"]},"legend":null}
 }},
{"width":198,"height":167,"title":"Male 1990 Cohort","data":{"name":"M1990"},
 "mark":{"type":"line","interpolate":"monotone","strokeWidth":1.7},
 "encoding":{
  "x":{"field":"age","type":"quantitative","scale":{"domain":[12.24,86.76],"nice":false,"zero":false},"axis":{"values":[20,30,40,50,60,70,80],"labelExpr":"datum.value % 20 === 0 ? datum.label : ''","labelPadding":4,"labelAngle":0,"title":"Age","titleFontSize":18,"titlePadding":2}},
  "y":{"field":"prob","type":"quantitative","scale":{"domain":[-0.55,15.55],"nice":false,"zero":false},"axis":{"values":[0,2.5,5,7.5,10,12.5,15],"labels":false,"ticks":false,"title":null}},
  "color":{"field":"income","type":"nominal","scale":{"domain":["below","near","p200","p300","p400"],"range":["#E8432F","#FFA500","#00BFFF","#0000FF","#000000"]},"legend":null}
 }}
]
}
